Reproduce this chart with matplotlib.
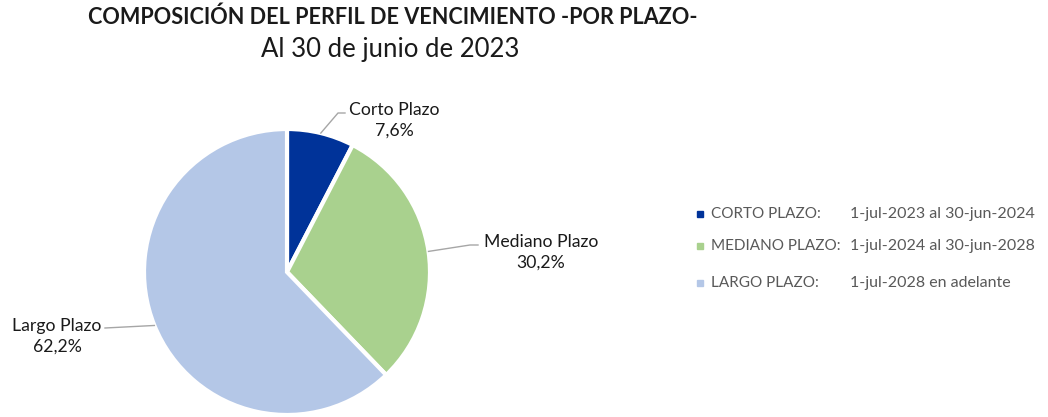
import matplotlib
matplotlib.use("Agg")
import matplotlib.pyplot as plt
import numpy as np

plt.rcParams['font.family'] = ['Lato', 'DejaVu Sans']

categories = ["Corto Plazo", "Mediano Plazo", "Largo Plazo"]
values = [7.6, 30.2, 62.2]
value_labels = ["7,6%", "30,2%", "62,2%"]
legend_names = ["CORTO PLAZO:", "MEDIANO PLAZO:", "LARGO PLAZO:"]
legend_ranges = ["1-jul-2023 al 30-jun-2024", "1-jul-2024 al 30-jun-2028", "1-jul-2028 en adelante"]
colors = ["#003399", "#A9D18E", "#B4C7E7"]

W, H = 1048, 417
fig = plt.figure(figsize=(W / 100, H / 100), dpi=100)

cx, cy, r = 287, 272, 143
ax = fig.add_axes([(cx - r) / W, 1 - (cy + r) / H, 2 * r / W, 2 * r / H])
wedges, _ = ax.pie(values, colors=colors, startangle=90, counterclock=False,
                   wedgeprops=dict(edgecolor="white", linewidth=3))
ax.set_xlim(-1, 1)
ax.set_ylim(-1, 1)
ax.set_aspect("equal")
ax.axis("off")

def px2d(px, py):
    return (px - cx) / r, (cy - py) / r

# label text centers and leader elbow/end points (pixel layout)
text_pos = [px2d(394, 120), px2d(541, 252), px2d(57, 336)]
elbows = [[px2d(338, 113), px2d(345, 113)],
          [px2d(470, 245), px2d(478, 245)],
          [px2d(105, 328)]]

for w, lab, val, tp, el in zip(wedges, categories, value_labels, text_pos, elbows):
    ang = np.deg2rad((w.theta1 + w.theta2) / 2)
    ex, ey = np.cos(ang), np.sin(ang)
    xs = [ex] + [p[0] for p in el]
    ys = [ey] + [p[1] for p in el]
    ax.plot(xs, ys, color="#A6A6A6", lw=1, clip_on=False)
    ax.text(tp[0], tp[1], f"{lab}\n{val}", ha="center", va="center",
            fontsize=12.7, color="#1a1a1a", linespacing=1.35, clip_on=False)

fig.text(393 / W, 1 - 17 / H, "COMPOSICIÓN DEL PERFIL DE VENCIMIENTO -POR PLAZO-",
         ha="center", va="center", fontsize=15.6, fontweight="bold", color="#1a1a1a")
fig.text(390 / W, 1 - 50 / H, "Al 30 de junio de 2023", ha="center", va="center",
         fontsize=18.5, color="#1a1a1a")

rows_y = [214, 246, 283]
for name, rng, col, y in zip(legend_names, legend_ranges, colors, rows_y):
    fig.patches.append(plt.Rectangle((697 / W, 1 - (y + 3) / H), 6 / W, 6 / H,
                                     transform=fig.transFigure, color=col))
    fig.text(711 / W, 1 - y / H, name, ha="left", va="center", fontsize=11, color="#595959")
    fig.text(850 / W, 1 - y / H, rng, ha="left", va="center", fontsize=11.5, color="#595959")

fig.savefig("out.png", dpi=100, facecolor="white")
